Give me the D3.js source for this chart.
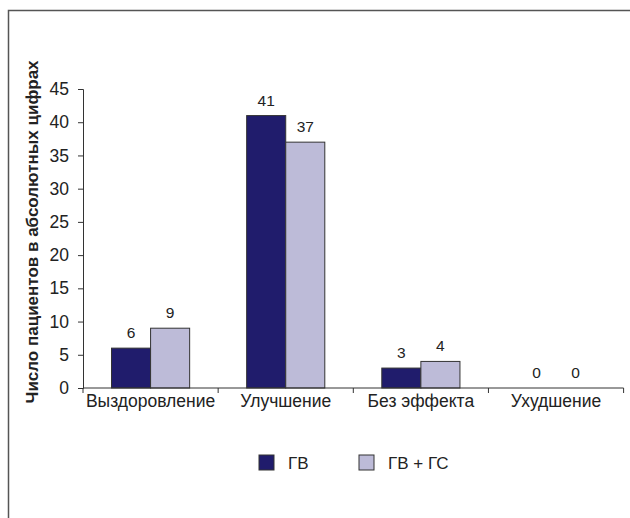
<!DOCTYPE html>
<html>
<head>
<meta charset="utf-8">
<script src="https://cdn.jsdelivr.net/npm/d3@7"></script>
<style>
    body { margin: 0; background: #fff; }
    text { font-family: "Liberation Sans", Arial, sans-serif; fill: #222; }
</style>
</head>
<body>
<div id="chart"></div>
<script>
    // data
    var categories = ["Выздоровление", "Улучшение", "Без эффекта", "Ухудшение"];
    var seriesNames = ["ГВ", "ГВ + ГС"];
    var gvValues = [6, 41, 3, 0];
    var gvgsValues = [9, 37, 4, 0];
    var yTicks = [0, 5, 10, 15, 20, 25, 30, 35, 40, 45];
    var yTitle = "Число пациентов в абсолютных цифрах";

    var colors = ["#201c6c", "#bdbbd8"];

    var width = 630,
        height = 518;
    var margin = { left: 83, top: 89, right: 6, bottom: 130 };
    var plotW = 540.6;
    var plotH = height - margin.top - margin.bottom;

    var svg = d3.select("#chart")
        .append("svg")
        .attr("width", width)
        .attr("height", height);

    // frame (only top and left edges show)
    svg.append("path")
        .attr("d", "M8.5,518V10.5H630")
        .attr("fill", "none")
        .attr("stroke", "#555")
        .attr("stroke-width", 1.5);

    var x = d3.scaleBand()
        .domain(categories)
        .range([margin.left, margin.left + plotW])
        .paddingInner(0)
        .paddingOuter(0);

    var inner = d3.scaleBand()
        .domain(seriesNames)
        .range([28.5, x.bandwidth() - 28.5]);

    var y = d3.scaleLinear()
        .domain([0, 45])
        .range([margin.top + plotH, margin.top]);

    var rows = categories.map(function (c, i) {
        return { cat: c, vals: [gvValues[i], gvgsValues[i]] };
    });

    var g = svg.selectAll("g.group")
        .data(rows)
        .enter()
        .append("g")
        .attr("class", "group")
        .attr("transform", function (d) { return "translate(" + x(d.cat) + ",0)"; });

    g.selectAll("rect")
        .data(function (d) { return d.vals.map(function (v, j) { return { v: v, s: seriesNames[j], j: j }; }); })
        .enter()
        .append("rect")
        .filter(function (d) { return d.v > 0; })
        .attr("x", function (d) { return inner(d.s); })
        .attr("y", function (d) { return y(d.v); })
        .attr("width", inner.bandwidth())
        .attr("height", function (d) { return y(0) - y(d.v); })
        .attr("fill", function (d) { return colors[d.j]; })
        .attr("stroke", "#333")
        .attr("stroke-width", 1);

    g.selectAll("text.val")
        .data(function (d) { return d.vals.map(function (v, j) { return { v: v, s: seriesNames[j] }; }); })
        .enter()
        .append("text")
        .attr("class", "val")
        .attr("x", function (d) { return inner(d.s) + inner.bandwidth() / 2; })
        .attr("y", function (d) { return y(d.v) - 10; })
        .attr("text-anchor", "middle")
        .attr("font-size", 15.5)
        .text(function (d) { return d.v; });

    // axes
    var yAxis = svg.append("g")
        .attr("transform", "translate(" + margin.left + ",0)")
        .call(d3.axisLeft(y).tickValues(yTicks).tickSize(5).tickPadding(9));
    yAxis.selectAll("text").attr("font-size", 17.5).style("font-family", "Liberation Sans, Arial, sans-serif").attr("fill", "#222");
    yAxis.selectAll("line, path").attr("stroke", "#333");

    var xAxis = svg.append("g")
        .attr("transform", "translate(0," + y(0) + ")")
        .call(d3.axisBottom(x).tickSize(0).tickPadding(7));
    xAxis.selectAll("text").attr("font-size", 17.5).style("font-family", "Liberation Sans, Arial, sans-serif").attr("fill", "#222");
    xAxis.select("path").attr("stroke", "#333").attr("d", "M" + margin.left + ",0H" + (margin.left + plotW));
    // boundary ticks between categories
    xAxis.selectAll("line.bound")
        .data(categories.concat(["end"]))
        .enter()
        .append("line")
        .attr("class", "bound")
        .attr("x1", function (d, i) { return margin.left + i * x.bandwidth(); })
        .attr("x2", function (d, i) { return margin.left + i * x.bandwidth(); })
        .attr("y1", 0)
        .attr("y2", 5)
        .attr("stroke", "#333");

    // y title
    svg.append("text")
        .attr("transform", "translate(37.5,232) rotate(-90)")
        .attr("text-anchor", "middle")
        .attr("font-size", 17)
        .attr("font-weight", "bold")
        .text(yTitle);

    // legend
    var legX = [259, 359];
    var leg = svg.selectAll("g.leg")
        .data(seriesNames)
        .enter()
        .append("g")
        .attr("class", "leg")
        .attr("transform", function (d, i) { return "translate(" + legX[i] + ",455)"; });
    leg.append("rect")
        .attr("width", 15)
        .attr("height", 15)
        .attr("fill", function (d, i) { return colors[i]; })
        .attr("stroke", "#333");
    leg.append("text")
        .attr("x", 29)
        .attr("y", 14)
        .attr("font-size", 17)
        .text(function (d) { return d; });
</script>
</body>
</html>
